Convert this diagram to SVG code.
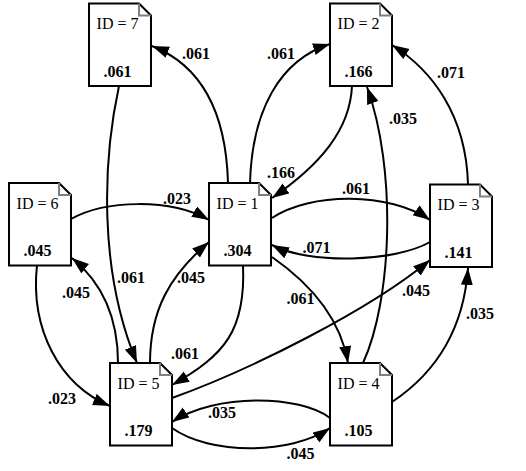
<svg xmlns="http://www.w3.org/2000/svg" width="526" height="471" viewBox="0 0 526 471">
<style>
.node path.box{fill:#fff;stroke:#000;stroke-width:2}
.node path.fold{fill:none;stroke:#808080;stroke-width:2}
.id{font-family:"Liberation Serif","Times New Roman",serif;font-size:16px;text-anchor:middle}
.val{font-family:"Liberation Serif","Times New Roman",serif;font-size:16px;font-weight:bold;text-anchor:middle}
.edges path{fill:none;stroke:#000;stroke-width:2;marker-end:url(#ah)}
.lbl{font-family:"Liberation Serif","Times New Roman",serif;font-size:16px;font-weight:bold;text-anchor:middle}
</style>
<defs>
<marker id="ah" markerUnits="userSpaceOnUse" markerWidth="18" markerHeight="13" refX="17" refY="6" orient="auto" viewBox="0 0 18 13">
<path d="M0,0 L17,6 L0,12 Z" fill="#000"/>
</marker>
</defs>
<rect width="526" height="471" fill="#fff"/>
<g id="edges" class="edges">
<path d="M228,183 C226,110 200,65 152,46"/>
<path d="M250,183 C252,110 280,60 330,44"/>
<path d="M352,86 C350,130 320,165 272,198"/>
<path d="M272,218 C310,192 390,192 430,220"/>
<path d="M430,242 C395,262 310,265 272,245"/>
<path d="M468,184 C466,115 432,70 392,45"/>
<path d="M363,363 C392,300 397,170 367,87"/>
<path d="M272,257 C305,280 340,315 348,363"/>
<path d="M172,398 C250,370 370,310 430,260"/>
<path d="M392,402 C425,380 463,340 468,268"/>
<path d="M330,418 C300,395 215,393 172,422"/>
<path d="M172,428 C210,455 290,455 330,428"/>
<path d="M71,219 C105,200 170,198 209,220"/>
<path d="M37,265 C30,330 60,385 110,406"/>
<path d="M118,363 C118,320 105,285 72,258"/>
<path d="M119,86 C103,160 98,270 137,363"/>
<path d="M150,363 C150,310 170,275 209,242"/>
<path d="M243,265 C246,330 225,355 172,385"/>
</g>
<g id="edge-labels">
<text class="lbl" x="196" y="59">.061</text>
<text class="lbl" x="281" y="59">.061</text>
<text class="lbl" x="281" y="178">.166</text>
<text class="lbl" x="356" y="194">.061</text>
<text class="lbl" x="316.5" y="253">.071</text>
<text class="lbl" x="451" y="78">.071</text>
<text class="lbl" x="403" y="124">.035</text>
<text class="lbl" x="300.5" y="304">.061</text>
<text class="lbl" x="416" y="296">.045</text>
<text class="lbl" x="480" y="319">.035</text>
<text class="lbl" x="222" y="418">.035</text>
<text class="lbl" x="300.5" y="459">.045</text>
<text class="lbl" x="177" y="204">.023</text>
<text class="lbl" x="62" y="404">.023</text>
<text class="lbl" x="76" y="298">.045</text>
<text class="lbl" x="131" y="283">.061</text>
<text class="lbl" x="191" y="283">.045</text>
<text class="lbl" x="185" y="359">.061</text>
</g>
<g id="node7" class="node" transform="translate(89,3.5)">
<path class="box" d="M0,0 H50 L62,12 V82.5 H0 Z"/><path class="fold" d="M50,0 V12 H62"/>
<text class="id" x="28.5" y="25.5">ID = 7</text><text class="val" x="28.5" y="73">.061</text>
</g>
<g id="node2" class="node" transform="translate(330,3.5)">
<path class="box" d="M0,0 H50 L62,12 V82.5 H0 Z"/><path class="fold" d="M50,0 V12 H62"/>
<text class="id" x="28.5" y="25.5">ID = 2</text><text class="val" x="28.5" y="73">.166</text>
</g>
<g id="node6" class="node" transform="translate(9,183)">
<path class="box" d="M0,0 H50 L62,12 V82.5 H0 Z"/><path class="fold" d="M50,0 V12 H62"/>
<text class="id" x="28.5" y="25.5">ID = 6</text><text class="val" x="28.5" y="73">.045</text>
</g>
<g id="node1" class="node" transform="translate(209,183)">
<path class="box" d="M0,0 H50 L62,12 V82.5 H0 Z"/><path class="fold" d="M50,0 V12 H62"/>
<text class="id" x="28.5" y="25.5">ID = 1</text><text class="val" x="28.5" y="73">.304</text>
</g>
<g id="node3" class="node" transform="translate(430,184.5)">
<path class="box" d="M0,0 H50 L62,12 V82.5 H0 Z"/><path class="fold" d="M50,0 V12 H62"/>
<text class="id" x="28.5" y="25.5">ID = 3</text><text class="val" x="28.5" y="73">.141</text>
</g>
<g id="node5" class="node" transform="translate(110,363)">
<path class="box" d="M0,0 H50 L62,12 V82.5 H0 Z"/><path class="fold" d="M50,0 V12 H62"/>
<text class="id" x="28.5" y="25.5">ID = 5</text><text class="val" x="28.5" y="73">.179</text>
</g>
<g id="node4" class="node" transform="translate(330,363)">
<path class="box" d="M0,0 H50 L62,12 V82.5 H0 Z"/><path class="fold" d="M50,0 V12 H62"/>
<text class="id" x="28.5" y="25.5">ID = 4</text><text class="val" x="28.5" y="73">.105</text>
</g>
</svg>
